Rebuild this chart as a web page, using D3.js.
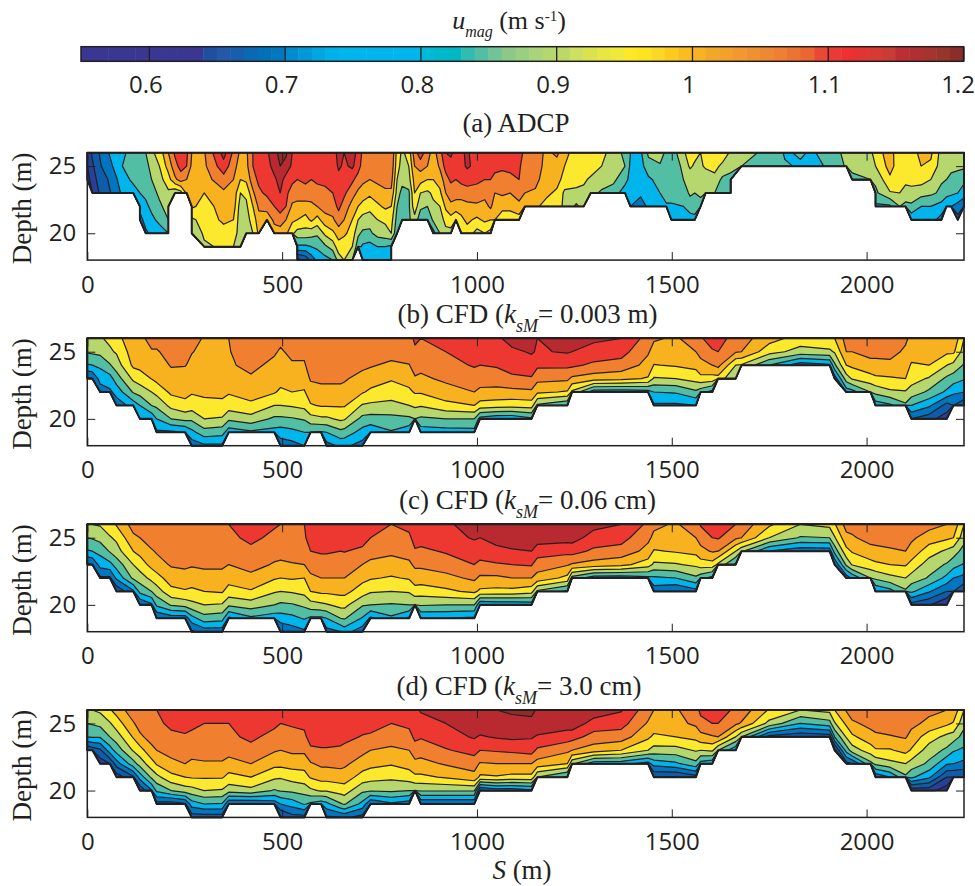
<!DOCTYPE html>
<html>
<head>
<meta charset="utf-8">
<title>u_mag sections</title>
<script src="https://cdn.jsdelivr.net/npm/d3@7"></script>
<style>
  html, body { margin: 0; background: #fff; }
  svg { display: block; }
  .serif { font-family: "Liberation Serif", serif; fill: #231f20; }
  .tick text { font-family: "Open Sans", sans-serif; fill: #231f20; }
</style>
</head>
<body>
<script>
// band lower limits and their fills
const levels = [.5, .6, .65, .7, .75, .8, .85, .9, .95, 1, 1.05, 1.1, 1.15];
const levelColors = ['#2e3192', '#27409a', '#0f5cab', '#0076c0', '#00b4ec', '#52bfa4', '#b5d76d',
  '#fce82c', '#f9b21f', '#f07f2f', '#ed3832', '#b92a30', '#8f2c28'];

// colour bar cells, 0.55 to 1.2
const barColors = ['#3a3694', '#3a3694', '#3a3694', '#3a3694', '#3a3694', '#3a3694', '#3a3694', '#3a3694', '#3a3694',
  '#1e4fa0', '#2458a8', '#155fae', '#0a68b4', '#0070b8', '#0078c0',
  '#008ccf', '#0098d8', '#00a5e2', '#00b0ea', '#00b5ee', '#00b5ee', '#00b5ee', '#00b5ee', '#00b5ee', '#00b5ee',
  '#00b8d8', '#00b8cc', '#00b8c4', '#30bcb0', '#52bfa4', '#70c498', '#8cc888', '#98cf80', '#aad47c', '#b5d76d',
  '#bcd968', '#cde060', '#dbe24d', '#e8e642', '#f0e83a', '#fde827', '#fde423', '#fbd825', '#fdca20', '#f9bd1f',
  '#f9b221', '#f1a728', '#f4a12a', '#f2982f', '#ef9130', '#ef8832', '#ef7f33', '#ec7432', '#ea6731', '#e94833',
  '#ea3a35', '#ed3030', '#e03533', '#d83a33', '#c83c33', '#bb2e35', '#b02f33', '#a5342f', '#98352b', '#8b2d28'];
const barTicks = [.6, .7, .8, .9, 1, 1.1, 1.2];
const sTicks = [0, 500, 1000, 1500, 2000];
const depthTicks = [20, 25];

// every column runs down from 26 m in 1 m steps and stops at the bed
const adcpStations = [0, 13, 30, 60, 90, 118, 135, 150, 165, 185, 208, 225, 240, 255, 268, 300, 350, 375, 393, 408,
  425, 440, 461, 480, 495, 510, 526, 539, 560, 575, 590, 610, 630, 645, 659, 680, 695, 707, 725, 745,
  765, 780, 795, 808, 825, 840, 855, 873, 888, 905, 920, 933, 946, 960, 975, 1000, 1020, 1035, 1046, 1065,
  1085, 1108, 1123, 1150, 1180, 1205, 1225, 1255, 1274, 1292, 1320, 1350, 1380, 1394, 1420, 1440, 1470, 1486, 1499, 1530,
  1547, 1559, 1574, 1587, 1610, 1630, 1651, 1679, 1730, 1770, 1790, 1830, 1860, 1890, 1948, 1963, 2010, 2023, 2060, 2085,
  2100, 2115, 2140, 2165, 2192, 2205, 2217, 2234, 2250];
const adcpColumns = [
  [.60, .60, .58], [.66, .64, .62, .60], [.70, .69, .67, .65], [.76, .74, .71, .70], [.79, .80, .78, .76],
  [.82, .82, .81, .78], [.84, .84, .83, .80, .77, .73], [.85, .84, .83, .81, .79, .77, .74],
  [.89, .86, .85, .83, .81, .79, .76], [.92, .90, .88, .86, .84, .81, .78], [1, .97, .93, .89, .87, .85, .80],
  [1.06, 1.03, .99, .86], [1.10, 1.07, 1.02, .88], [1.06, 1.05, 1, .96], [1, .99, .98, .965, .96, .89, .85],
  [.995, .99, .98, .95, .93, .92, .91, .89], [1.12, 1.08, 1.03, .99, .97, .96, .93, .91],
  [1.04, 1.02, 1, .985, .975, .95, .93, .90], [.99, .975, .95, .90, .875, .87, .87, .88],
  [.99, .985, .96, .91, .89, .88, .88], [1.05, 1.05, 1.03, .99, .95, .92, .90], [1.08, 1.07, 1.06, 1.04, 1.01, .98, .96],
  [1.09, 1.08, 1.07, 1.06, 1.02, .97], [1.14, 1.12, 1.09, 1.07, 1.05, 1.01, .98], [1.16, 1.15, 1.12, 1.10, 1.07, 1.03, .97],
  [1.16, 1.13, 1.08, 1.06, 1.05, 1, .96], [1.10, 1.09, 1.06, 1.03, .99, .96, .91],
  [1.08, 1.07, 1.05, 1.03, .98, .95, .88, .79, .63], [1.10, 1.08, 1.06, 1.03, .98, .93, .88, .79, .66],
  [1.09, 1.07, 1.05, 1.02, .99, .96, .87, .80, .72], [1.10, 1.08, 1.06, 1.03, 1, .93, .86, .81, .76],
  [1.08, 1.07, 1.06, 1.04, 1.02, .98, .91, .84, .78], [1.07, 1.06, 1.06, 1.05, 1.03, .99, .94, .87, .80],
  [1.12, 1.11, 1.08, 1.07, 1.06, 1.03, .97, .93, .87], [1.10, 1.09, 1.08, 1.06, 1.03, 1, .96, .92, .90],
  [1.13, 1.11, 1.06, 1.02, .98, .95, .93, .90, .86], [1.08, 1.07, 1.03, .99, .95, .90, .86, .82],
  [1.04, 1.03, 1.01, .98, .93, .88, .84, .79, .76], [1.03, 1.02, 1, .96, .92, .87, .84, .78, .76],
  [1.04, 1.03, 1.01, .98, .94, .90, .87, .80, .77], [1.04, 1.03, 1.02, .99, .96, .91, .88, .80, .78],
  [1.05, 1.04, 1.02, .99, .95, .92, .90, .79, .76], [.93, .92, .90, .88, .85, .83, .81], [.89, .88, .87, .83, .83, .83],
  [.92, .90, .88, .84, .84, .84], [1.03, 1, .97, .95, .93, .88], [1.08, 1.02, .97, .90, .86, .82],
  [1.02, 1, .95, .89, .85, .80], [.98, .96, .95, .91, .89, .86, .78], [1.03, 1.01, .97, .94, .90, .87, .85],
  [1.10, 1.07, 1.03, 1, .96, .92, .88], [1.11, 1.08, 1.06, 1.02, .99, .93, .88], [1.08, 1.07, 1.05, 1.02, .98, .90],
  [1.09, 1.08, 1.06, 1.03, .97, .94, .91], [1.11, 1.11, 1.06, 1.04, .98, .96, .93], [1.06, 1.08, 1.06, 1.03, .99, .94, .88],
  [1.08, 1.07, 1.05, 1.02, .98, .96, .90], [1.09, 1.08, 1.05, 1.03, 1.01, .95, .88], [1.10, 1.07, 1.03, 1, .97, .95],
  [1.07, 1.06, 1.03, 1.01, .96, .93], [1.07, 1.06, 1.04, 1, .97, .91], [1.10, 1.06, 1.05, 1.03, .98, .93],
  [1.02, 1.02, 1.02, 1, .96], [1.02, 1.02, 1.01, .995, .96], [.99, .985, .98, .96, .93], [1.01, .98, .97, .94, .92],
  [.97, .95, .93, .89, .89], [.92, .93, .915, .89, .84], [.94, .925, .91, .885, .87], [.95, .93, .89, .87],
  [.92, .90, .88, .84], [.87, .87, .86, .83], [.84, .85, .82, .77], [.80, .79, .78, .76, .75], [.79, .78, .78, .77, .70],
  [.86, .83, .79, .78, .77], [.89, .84, .82, .80, .78], [.83, .82, .82, .83, .79], [.82, .82, .83, .83, .79, .78],
  [.89, .86, .85, .82, .80, .78], [.93, .91, .86, .86, .82, .78], [.92, .89, .87, .85, .83, .78], [.90, .89, .87, .86, .83],
  [.93, .91, .86, .85], [.95, .92, .88, .85], [.94, .885, .84, .83], [.89, .86, .84, .80], [.87, .85], [.845, .84], [.84, .84],
  [.79, .81], [.81, .79], [.79, .78], [.82, .80], [.86, .855], [.87, .86, .84], [.89, .88, .85], [.92, .90, .86, .84, .79],
  [.98, .97, .94, .895, .79], [.90, .92, .93, .90, .85], [.94, .93, .92, .87, .84], [.92, .93, .92, .88, .84, .76],
  [.97, .95, .92, .87, .80, .77], [.96, .94, .90, .86, .80, .77], [.88, .875, .855, .84, .78, .73], [.87, .87, .85, .82, .75],
  [.87, .86, .84, .81, .75], [.87, .86, .83, .80, .73, .68], [.87, .86, .81, .78, .70]
];

const cfdStations = [0, 13, 33, 58, 75, 118, 135, 165, 178, 215, 251, 268, 300, 346, 363, 420, 480, 496, 525, 557,
  573, 600, 614, 650, 660, 706, 727, 780, 826, 841, 856, 920, 993, 1008, 1050, 1090, 1140, 1155, 1232, 1244,
  1300, 1370, 1439, 1454, 1510, 1562, 1574, 1604, 1619, 1664, 1679, 1750, 1830, 1905, 1918, 1948, 1963, 2010, 2023, 2060,
  2100, 2115, 2160, 2206, 2223, 2250];

const ks0003Columns = [
  [.88, .855, .795, .69], [.89, .86, .80, .70], [.895, .865, .81, .77, .72], [.91, .893, .845, .78, .74],
  [.935, .905, .875, .825, .77, .72], [.98, .975, .96, .91, .855, .77], [.985, .975, .965, .925, .87, .80, .75],
  [1.02, .995, .975, .952, .90, .85, .76], [1.02, .995, .98, .965, .915, .86, .80, .74],
  [1.03, 1.02, 1.003, .985, .96, .915, .85, .74], [1.03, 1.015, 1.002, .98, .965, .935, .865, .75],
  [1.02, 1.002, .99, .975, .955, .925, .86, .785, .72], [.995, .99, .985, .975, .96, .935, .90, .83, .74],
  [.995, .99, .985, .975, .965, .935, .895, .82, .74], [1, .998, .995, .985, .955, .925, .86, .77],
  [1.025, 1.02, 1.01, .995, .97, .94, .88, .79], [1.025, 1.005, .99, .975, .955, .90, .84, .78],
  [1.01, .995, .985, .97, .94, .90, .84, .775, .72], [1.02, 1.01, .995, .975, .95, .905, .845, .785, .73],
  [1.02, 1.01, .995, .975, .945, .915, .855, .80, .75], [1.05, 1.035, 1.02, 1.005, .98, .945, .88, .80],
  [1.05, 1.04, 1.03, 1.01, .985, .955, .89, .795], [1.045, 1.04, 1.03, 1.01, .985, .955, .89, .80, .73],
  [1.045, 1.04, 1.03, 1.01, .985, .955, .91, .835, .76], [1.045, 1.04, 1.03, 1.005, .985, .955, .905, .83, .76],
  [1.045, 1.035, 1.01, .985, .955, .895, .835, .78, .73], [1.045, 1.03, 1.005, .975, .94, .89, .83, .76],
  [1.04, 1.02, .99, .955, .925, .885, .835, .795], [1.04, 1.025, .998, .97, .94, .90, .84, .76],
  [1.055, 1.045, 1.02, .995, .955, .91, .85], [1.05, 1.035, 1.015, .99, .955, .905, .84, .77],
  [1.06, 1.05, 1.03, 1.01, .98, .935, .85, .775], [1.08, 1.07, 1.055, 1.025, 1, .95, .85, .78],
  [1.09, 1.075, 1.05, 1.02, .99, .93, .78], [1.09, 1.08, 1.055, 1.025, .985, .925, .76],
  [1.12, 1.09, 1.07, 1.04, .985, .92, .76], [1.12, 1.105, 1.08, 1.045, .99, .925, .79],
  [1.10, 1.095, 1.06, 1.015, .96, .84], [1.125, 1.105, 1.06, 1.01, .945, .80], [1.125, 1.10, 1.06, .99, .89],
  [1.11, 1.08, 1.04, .975, .77], [1.10, 1.07, 1.03, .965, .77], [1.03, 1.005, .985, .945, .78],
  [1.005, .985, .948, .895, .80, .74], [.995, .985, .955, .90, .805, .74], [1.02, 1, .965, .92, .84, .75],
  [1.045, 1.015, .985, .935, .82], [1.07, 1.045, 1, .93, .78], [1.07, 1.05, 1.015, .93], [1.03, 1.005, .90, .85],
  [1.02, 1, .895], [.97, .92, .80], [.93, .88, .72], [.94, .89, .74], [.95, .905, .84, .72], [1.02, 1, .95, .875, .77],
  [1.01, 1, .96, .905, .78], [1.03, 1.015, .985, .93, .85], [1.03, 1.015, .985, .94, .865, .77],
  [1.035, 1.02, .985, .945, .89, .79], [1.01, .99, .97, .95, .895, .84], [.985, .97, .945, .92, .88, .80, .70],
  [.985, .97, .95, .895, .84, .76, .67], [.985, .96, .90, .84, .79, .68, .62], [.99, .96, .885, .825, .76, .70],
  [.90, .875, .845, .805, .75, .66]
];

const ks006Columns = [
  [.90, .85, .795, .69], [.90, .855, .80, .70], [.905, .868, .815, .77, .69], [.93, .895, .855, .785, .69],
  [.955, .91, .88, .82, .76, .66], [1.02, .99, .95, .90, .86, .74], [1.03, 1, .965, .925, .875, .815, .70],
  [1.04, 1.025, .995, .965, .915, .85, .74], [1.04, 1.025, 1.005, .98, .93, .875, .81, .70],
  [1.045, 1.035, 1.02, 1.005, .975, .935, .855, .72], [1.045, 1.04, 1.025, 1.01, .98, .945, .87, .72],
  [1.045, 1.04, 1.025, 1.005, .975, .94, .885, .78, .69], [1.045, 1.04, 1.03, 1.01, .98, .95, .90, .83, .72],
  [1.045, 1.04, 1.03, 1.01, .98, .955, .895, .82, .72], [1.05, 1.04, 1.03, 1, .97, .93, .86, .74],
  [1.065, 1.06, 1.04, 1.02, .985, .945, .875, .79], [1.055, 1.04, 1.02, .995, .955, .905, .85, .77],
  [1.05, 1.04, 1.02, .99, .95, .90, .84, .775, .70], [1.05, 1.04, 1.03, .995, .955, .905, .845, .785, .72],
  [1.05, 1.045, 1.03, 1, .95, .915, .86, .805, .74], [1.07, 1.065, 1.05, 1.02, .99, .95, .88, .79],
  [1.07, 1.065, 1.055, 1.03, 1, .96, .89, .79], [1.07, 1.065, 1.055, 1.03, 1, .96, .895, .80, .73],
  [1.07, 1.065, 1.05, 1.025, 1, .965, .915, .85, .75], [1.07, 1.065, 1.052, 1.025, 1, .965, .915, .855, .77],
  [1.08, 1.07, 1.04, 1, .965, .925, .855, .795, .72], [1.07, 1.05, 1.025, .985, .955, .905, .85, .74],
  [1.05, 1.04, 1.01, .98, .945, .90, .845, .79], [1.065, 1.04, 1.02, .99, .955, .905, .85, .74],
  [1.08, 1.07, 1.045, 1.01, .975, .93, .85], [1.09, 1.07, 1.04, 1.01, .975, .925, .855, .75],
  [1.09, 1.08, 1.055, 1.025, .985, .94, .85, .75], [1.125, 1.105, 1.075, 1.05, 1.01, .96, .85, .74],
  [1.12, 1.10, 1.07, 1.04, .99, .94, .75], [1.135, 1.12, 1.085, 1.045, .99, .935, .76],
  [1.14, 1.125, 1.095, 1.05, 1, .935, .76], [1.145, 1.13, 1.10, 1.055, 1, .92, .77],
  [1.14, 1.12, 1.08, 1.02, .985, .84], [1.14, 1.12, 1.065, 1.005, .935, .79], [1.14, 1.12, 1.07, .995, .83],
  [1.115, 1.08, 1.04, .98, .77], [1.10, 1.07, 1.03, .965, .77], [1.04, 1.01, .985, .925, .785],
  [1.01, .99, .945, .89, .79, .72], [.995, .985, .955, .895, .80, .70], [1.025, 1, .965, .91, .84, .73],
  [1.055, 1.02, .985, .925, .82], [1.07, 1.05, 1.005, .93, .78], [1.07, 1.055, 1, .89], [1.05, 1.01, .90, .79],
  [1.03, 1, .86], [.96, .90, .75], [.90, .845, .715], [.915, .85, .72], [.945, .895, .82, .70], [1.02, .985, .935, .86, .72],
  [1.015, .995, .955, .905, .76], [1.03, 1.015, .985, .93, .85], [1.035, 1.02, .985, .94, .86, .75],
  [1.045, 1.03, .99, .95, .885, .78], [1.045, 1.03, 1, .955, .90, .84], [1.04, 1.01, .98, .935, .88, .81, .68],
  [1.02, .975, .925, .875, .845, .755, .655], [1, .96, .89, .845, .785, .70, .60], [.985, .95, .875, .82, .75, .70],
  [.90, .87, .83, .795, .735, .65]
];

const ks30Columns = [
  [.895, .85, .80, .65], [.90, .855, .805, .67], [.91, .865, .805, .69, .62], [.945, .895, .85, .775, .65],
  [.97, .925, .875, .82, .725, .62], [1.03, .995, .955, .905, .83, .69], [1.045, 1.02, .99, .93, .87, .77, .66],
  [1.045, 1.03, 1.02, .985, .93, .86, .745], [1.05, 1.04, 1.02, 1, .955, .885, .81, .68],
  [1.07, 1.06, 1.04, 1.02, .985, .935, .85, .67], [1.075, 1.065, 1.045, 1.025, 1, .95, .875, .69],
  [1.08, 1.06, 1.04, 1.02, .99, .955, .88, .775, .67], [1.08, 1.05, 1.04, 1.02, .995, .955, .90, .80, .67],
  [1.08, 1.05, 1.04, 1.02, .995, .955, .895, .795, .67], [1.075, 1.05, 1.04, 1.02, .98, .935, .87, .70],
  [1.09, 1.08, 1.06, 1.035, 1, .95, .885, .70], [1.08, 1.06, 1.035, 1.005, .965, .91, .845, .72],
  [1.08, 1.05, 1.03, 1, .965, .905, .855, .75, .64], [1.08, 1.055, 1.035, 1.01, .97, .92, .86, .77, .68],
  [1.085, 1.06, 1.04, 1.01, .97, .93, .87, .805, .68], [1.09, 1.08, 1.07, 1.04, .995, .955, .89, .79],
  [1.09, 1.08, 1.07, 1.045, 1.01, .97, .905, .77], [1.09, 1.08, 1.07, 1.045, 1.01, .97, .905, .785, .69],
  [1.09, 1.08, 1.07, 1.04, 1.015, .975, .92, .845, .70], [1.09, 1.08, 1.07, 1.03, 1.01, .975, .925, .855, .71],
  [1.095, 1.08, 1.045, 1.015, .975, .93, .86, .785, .68], [1.09, 1.075, 1.04, 1, .965, .92, .855, .70],
  [1.07, 1.05, 1.025, .99, .955, .91, .86, .74], [1.08, 1.06, 1.035, 1, .97, .925, .85, .72],
  [1.09, 1.08, 1.06, 1.03, .985, .94, .85], [1.105, 1.08, 1.055, 1.02, .985, .94, .855, .70],
  [1.12, 1.10, 1.08, 1.045, 1.005, .955, .855, .70], [1.145, 1.13, 1.105, 1.07, 1.02, .985, .855, .70],
  [1.145, 1.13, 1.095, 1.05, .995, .94, .69], [1.15, 1.14, 1.105, 1.055, 1, .945, .72],
  [1.155, 1.14, 1.11, 1.06, 1, .935, .72], [1.16, 1.14, 1.105, 1.07, 1, .935, .74],
  [1.145, 1.13, 1.095, 1.04, .98, .85], [1.145, 1.125, 1.075, 1.01, .95, .79], [1.145, 1.13, 1.07, 1, .86],
  [1.13, 1.08, 1.03, .975, .77], [1.105, 1.07, 1.025, .95, .77], [1.02, .995, .96, .90, .73],
  [1, .98, .94, .88, .77, .65], [.995, .985, .95, .88, .79, .645], [1.025, 1.01, .965, .905, .835, .68],
  [1.065, 1.03, .985, .90, .78], [1.08, 1.05, .995, .91, .76], [1.075, 1.05, 1, .85], [1.04, 1.01, .90, .76],
  [1.03, .995, .85], [.945, .885, .68], [.90, .80, .66], [.915, .83, .67], [.95, .895, .80, .63], [1.005, .96, .905, .82, .68],
  [1.03, .99, .94, .875, .70], [1.035, 1.015, .98, .925, .835], [1.04, 1.03, .985, .945, .86, .71],
  [1.045, 1.035, .995, .945, .885, .75], [1.05, 1.03, 1.005, .965, .90, .84], [1.03, 1.015, .98, .945, .88, .81, .62],
  [1.015, .985, .925, .875, .84, .76, .62], [1, .96, .885, .84, .755, .65, .57], [.985, .945, .875, .805, .75, .65],
  [.90, .865, .83, .79, .735, .65]
];

const panels = [
  { title: 'a', top: 152.7, stations: adcpStations, columns: adcpColumns },
  { title: 'b', top: 338.3, stations: cfdStations, columns: ks0003Columns },
  { title: 'c', top: 524.3, stations: cfdStations, columns: ks006Columns },
  { title: 'd', top: 710, stations: cfdStations, columns: ks30Columns }
];

const width = 975, height = 886;
const ink = '#231f20';
const left = 87.3, right = 964, plotH = 107.4;
const rows = d3.range(26, 17, -1);

const svg = d3.select('body').append('svg').attr('width', width).attr('height', height);
const x = d3.scaleLinear().domain([0, 2250]).range([left, right]);

/**
 * One contourf panel, bands painted from slow to fast
 */
function drawPanel(panel) {
  const y = d3.scaleLinear().domain([26, 18]).range([panel.top, panel.top + plotH]);
  const nx = panel.stations.length, ny = rows.length;

  const grid = [];
  rows.forEach((z, r) => panel.columns.forEach(col => grid.push(r < col.length ? col[r] : NaN)));

  const sOfIndex = d3.scaleLinear().domain(d3.range(nx)).range(panel.stations).clamp(true);
  const zOfIndex = d3.scaleLinear().domain(d3.range(ny)).range(rows).clamp(true);
  const path = d3.geoPath(d3.geoTransform({
    point(cx, cy) { this.stream.point(x(sOfIndex(cx - .5)), y(zOfIndex(cy - .5))); }
  }));

  const bands = d3.contours().size([nx, ny]).thresholds(levels)(grid);
  const g = svg.append('g');

  g.selectAll('path.band')
    .data(bands)
    .enter().append('path')
    .attr('class', 'band')
    .attr('d', path)
    .attr('fill', (d, i) => levelColors[i])
    .attr('stroke', ink)
    .attr('stroke-width', 1.2)
    .attr('stroke-linejoin', 'round');

  // the bed gets a heavier line
  g.append('path')
    .attr('d', path(bands[0]))
    .attr('fill', 'none')
    .attr('stroke', ink)
    .attr('stroke-width', 2)
    .attr('stroke-linejoin', 'round');

  g.append('rect')
    .attr('x', left).attr('y', panel.top)
    .attr('width', right - left).attr('height', plotH)
    .attr('fill', 'none').attr('stroke', ink).attr('stroke-width', 1.5);

  const frame = (axis, tx, ty) => {
    const a = g.append('g').attr('transform', `translate(${tx},${ty})`).call(axis);
    a.select('.domain').remove();
    a.selectAll('line').attr('stroke', ink).attr('stroke-width', 1);
    return a;
  };

  frame(d3.axisBottom(x).tickValues(sTicks).tickSize(-8).tickFormat(d3.format('d')), 0, panel.top + plotH)
    .selectAll('text').style('font-size', '24px').attr('y', 15.5);
  frame(d3.axisTop(x).tickValues(sTicks).tickSize(-8).tickFormat(''), 0, panel.top);
  frame(d3.axisLeft(y).tickValues(depthTicks).tickSize(-8).tickPadding(11).tickFormat(d3.format('d')), left, 0)
    .selectAll('text').style('font-size', '24px');
  frame(d3.axisRight(y).tickValues(depthTicks).tickSize(-8).tickFormat(''), right, 0);

  svg.append('text')
    .attr('class', 'serif')
    .attr('transform', `translate(31,${panel.top + plotH / 2 + 2}) rotate(-90)`)
    .attr('text-anchor', 'middle')
    .style('font-size', '27px')
    .text('Depth (m)');
}

function drawTitle(baseline, cx, parts) {
  const t = svg.append('text')
    .attr('class', 'serif')
    .attr('x', cx).attr('y', baseline)
    .attr('text-anchor', 'middle')
    .style('font-size', '27px');
  if (parts.length === 1) {
    t.text(parts[0]);
    return;
  }
  t.append('tspan').text(parts[0]);
  t.append('tspan').style('font-style', 'italic').text('k');
  t.append('tspan').attr('dy', 9).style('font-style', 'italic').style('font-size', '18px').text('sM');
  t.append('tspan').attr('dy', -9).text(parts[1]);
}

function drawColorBar() {
  const bar = d3.scaleLinear().domain([.55, 1.2]).range([81, 963.5]);
  const cell = (bar.range()[1] - bar.range()[0]) / barColors.length;
  const top = 46.7, h = 14.6;

  svg.append('g').selectAll('rect')
    .data(barColors)
    .enter().append('rect')
    .attr('x', (d, i) => bar(.55) + i * cell)
    .attr('y', top)
    .attr('width', cell + .5)
    .attr('height', h)
    .attr('fill', d => d);

  svg.append('rect')
    .attr('x', bar(.55)).attr('y', top)
    .attr('width', bar(1.2) - bar(.55)).attr('height', h)
    .attr('fill', 'none').attr('stroke', ink).attr('stroke-width', 1.5);

  const a = svg.append('g')
    .attr('transform', `translate(0,${top + h})`)
    .call(d3.axisBottom(bar).tickValues(barTicks).tickSize(-h).tickFormat(d3.format('~g')));
  a.select('.domain').remove();
  a.selectAll('line').attr('stroke', ink).attr('stroke-width', 1.3);
  a.selectAll('text')
    .style('font-size', '24px')
    .attr('x', d => d === 1.2 ? -6 : -3.5)
    .attr('y', 32).attr('dy', 0);

  const label = svg.append('text')
    .attr('class', 'serif')
    .attr('x', 509).attr('y', 29)
    .attr('text-anchor', 'middle')
    .style('font-size', '26px');
  label.append('tspan').style('font-style', 'italic').text('u');
  label.append('tspan').attr('dy', 8).style('font-style', 'italic').style('font-size', '16px').text('mag');
  label.append('tspan').attr('dy', -8).text(' (m s');
  label.append('tspan').attr('dy', -8).style('font-size', '15px').text('-1');
  label.append('tspan').attr('dy', 8).text(')');
}

drawColorBar();
panels.forEach(drawPanel);

drawTitle(132, 516, ['(a) ADCP']);
drawTitle(323.3, 527.5, ['(b) CFD (', '= 0.003 m)']);
drawTitle(509, 527.5, ['(c) CFD (', '= 0.06 cm)']);
drawTitle(695, 519, ['(d) CFD (', '= 3.0 cm)']);

const xLabel = svg.append('text')
  .attr('class', 'serif')
  .attr('x', 522).attr('y', 879)
  .attr('text-anchor', 'middle')
  .style('font-size', '27px');
xLabel.append('tspan').style('font-style', 'italic').text('S');
xLabel.append('tspan').text(' (m)');
</script>
</body>
</html>
